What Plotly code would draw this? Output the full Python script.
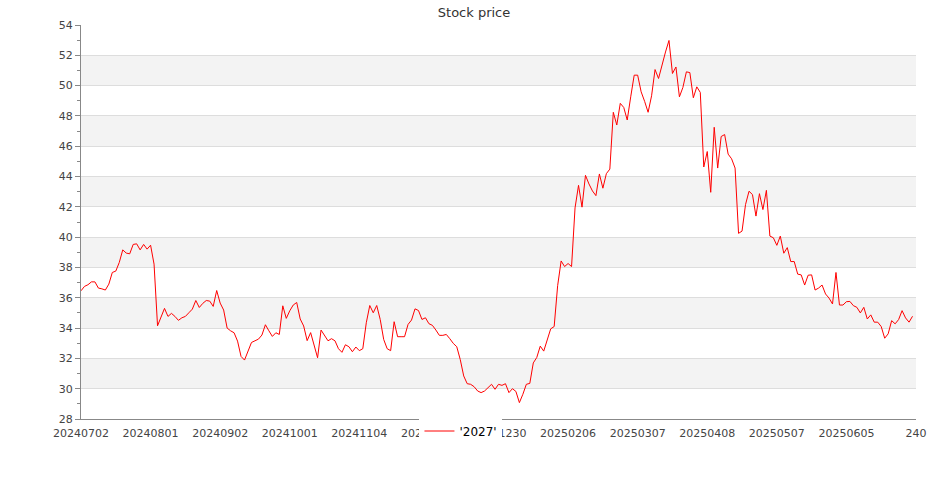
import plotly.graph_objects as go

# Closing prices, one per trading day (240 trading days)
prices = [
    36.46, 36.75, 36.86, 37.05, 37.05, 36.64, 36.59, 36.51, 36.90, 37.67,
    37.76, 38.33, 39.16, 38.95, 38.90, 39.52, 39.56, 39.16, 39.52, 39.21,
    39.47, 38.22, 34.15, 34.70, 35.30, 34.77, 34.97, 34.77, 34.51, 34.68,
    34.77, 35.01, 35.25, 35.82, 35.36, 35.63, 35.82, 35.78, 35.43, 36.48,
    35.65, 35.19, 34.00, 33.82, 33.69, 33.14, 32.13, 31.89, 32.51, 33.05,
    33.16, 33.27, 33.54, 34.22, 33.82, 33.45, 33.69, 33.58, 35.47, 34.64,
    35.14, 35.52, 35.69, 34.60, 34.14, 33.17, 33.70, 32.90, 32.04, 33.87,
    33.52, 33.16, 33.30, 33.16, 32.64, 32.40, 32.90, 32.77, 32.44, 32.75,
    32.51, 32.64, 34.35, 35.49, 35.01, 35.49, 34.57, 33.25, 32.64, 32.51,
    34.42, 33.43, 33.43, 33.43, 34.24, 34.53, 35.27, 35.16, 34.57, 34.68,
    34.29, 34.18, 33.87, 33.52, 33.52, 33.58, 33.30, 32.99, 32.77, 31.93,
    30.84, 30.33, 30.29, 30.13, 29.85, 29.74, 29.85, 30.07, 30.29, 29.96,
    30.29, 30.22, 30.33, 29.74, 30.00, 29.82, 29.08, 29.63, 30.29, 30.35,
    31.70, 32.06, 32.81, 32.48, 33.29, 33.95, 34.10, 36.80, 38.43, 38.06,
    38.26, 38.06, 41.93, 43.42, 41.98, 44.08, 43.51, 43.05, 42.74, 44.17,
    43.23, 44.19, 44.49, 48.24, 47.40, 48.83, 48.56, 47.73, 49.26, 50.69,
    50.69, 49.59, 48.96, 48.24, 49.33, 51.06, 50.47, 51.45, 52.22, 52.98,
    50.80, 51.23, 49.26, 49.88, 50.91, 50.86, 49.20, 49.92, 49.55, 44.63,
    45.65, 42.96, 47.25, 44.56, 46.64, 46.77, 45.48, 45.17, 44.56, 40.25,
    40.40, 42.15, 43.03, 42.81, 41.39, 42.87, 41.82, 43.09, 40.07, 39.96,
    39.46, 40.07, 38.94, 39.31, 38.39, 38.39, 37.56, 37.51, 36.84, 37.49,
    37.51, 36.51, 36.64, 36.84, 36.25, 35.98, 35.59, 37.67, 35.52, 35.52,
    35.74, 35.76, 35.48, 35.37, 35.00, 35.37, 34.60, 34.87, 34.39, 34.39,
    34.10, 33.33, 33.62, 34.49, 34.28, 34.56, 35.15, 34.67, 34.39, 34.78,
]

tick_positions = [0, 20, 40, 60, 80, 100, 120, 140, 160, 180, 200, 220, 240]
tick_labels = ["20240702", "20240801", "20240902", "20241001", "20241104",
               "20241202", "20241230", "20250206", "20250307", "20250408",
               "20250507", "20250605", "240"]

series_name = "'2027'"
y_min, y_max, y_step = 28, 54, 2

x_index = list(range(len(prices)))

fig = go.Figure()
fig.add_trace(go.Scatter(
    x=x_index, y=prices, mode="lines", name=series_name,
    line=dict(color="#ff0000", width=1),
    showlegend=True,
))

# alternating horizontal bands
shapes = []
for k, v in enumerate(range(y_min, y_max, y_step)):
    if k % 2 == 1:
        shapes.append(dict(type="rect", xref="paper", yref="y",
                           x0=0, x1=1, y0=v, y1=v + y_step,
                           fillcolor="#f3f3f3", line=dict(width=0),
                           layer="below"))

font_family = "DejaVu Sans"

fig.update_layout(
    width=935, height=500,
    margin=dict(l=81, r=19, t=25, b=81, autoexpand=False),
    paper_bgcolor="white", plot_bgcolor="white",
    font=dict(family=font_family, size=11, color="#444"),
    title=dict(text="Stock price", x=0.507, xref="container", xanchor="center",
               y=1 - 12 / 500, yref="container", yanchor="middle",
               font=dict(family=font_family, size=13, color="#333")),
    shapes=shapes,
    showlegend=True,
    legend=dict(orientation="h", xref="container", yref="container",
                x=0.493, xanchor="center", y=1 - 431 / 500, yanchor="middle",
                bgcolor="white", borderwidth=0,
                font=dict(family=font_family, size=12, color="#000")),
    xaxis=dict(
        range=[tick_positions[0], tick_positions[-1]],
        tickmode="array", tickvals=tick_positions, ticktext=tick_labels,
        showgrid=False, zeroline=False, automargin=False,
        showline=True, linecolor="#888", linewidth=1,
        ticks="", ticklabelstandoff=4,
        tickfont=dict(size=11, color="#444"),
    ),
    yaxis=dict(
        range=[y_min, y_max], dtick=y_step, tick0=y_min,
        showgrid=True, gridcolor="#dddddd", gridwidth=1,
        zeroline=False, automargin=False,
        showline=True, linecolor="#888", linewidth=1,
        ticks="outside", ticklen=5, tickcolor="#888",
        tickfont=dict(size=11, color="#444"),
        minor=dict(dtick=1, ticks="outside", ticklen=3, tickcolor="#888",
                   showgrid=False),
    ),
)

fig.write_html(
    "out.html",
    config={"displayModeBar": False},
    post_script="document.body.style.margin='0';document.body.style.padding='0';",
)
